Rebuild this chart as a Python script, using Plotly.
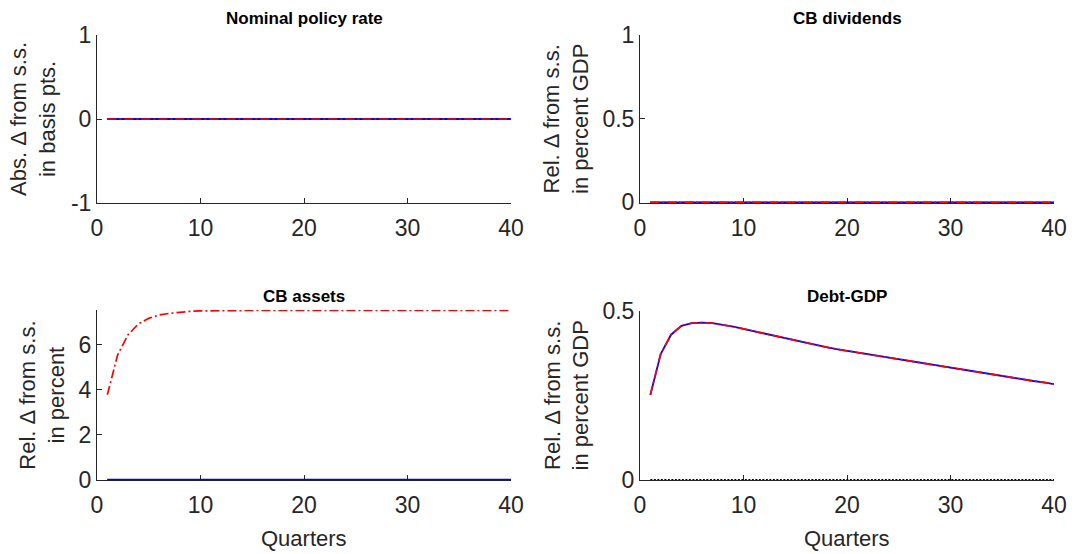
import plotly.graph_objects as go

W, H = 1078, 554

quarters = list(range(1, 41))

zero_series = [0.0] * 40

policy_rate_blue = [0.0] * 40
policy_rate_red = [0.0] * 40

dividends_blue = [0.0] * 40
dividends_red = [0.0] * 40

assets_blue = [0.0] * 40
assets_red = [3.78, 5.56, 6.45, 6.93, 7.18, 7.33, 7.40, 7.46, 7.49, 7.51,
              7.52, 7.52, 7.53, 7.53, 7.53, 7.53, 7.53, 7.53, 7.53, 7.53,
              7.53, 7.53, 7.53, 7.53, 7.53, 7.53, 7.53, 7.53, 7.53, 7.53,
              7.53, 7.53, 7.53, 7.53, 7.53, 7.53, 7.53, 7.53, 7.53, 7.53]

debt_red = [0.251, 0.372, 0.429, 0.455, 0.463, 0.465, 0.463, 0.459, 0.453, 0.446,
            0.439, 0.432, 0.426, 0.419, 0.412, 0.405, 0.399, 0.392, 0.386, 0.381,
            0.375, 0.370, 0.365, 0.360, 0.355, 0.350, 0.345, 0.340, 0.335, 0.331,
            0.326, 0.321, 0.316, 0.311, 0.307, 0.302, 0.297, 0.292, 0.288, 0.283]
debt_blue = list(debt_red)

titles = ["Nominal policy rate", "CB dividends", "CB assets", "Debt-GDP"]
ytitles = [["Abs. \u0394 from s.s.", "in basis pts."],
           ["Rel. \u0394 from s.s.", "in percent GDP"],
           ["Rel. \u0394 from s.s.", "in percent"],
           ["Rel. \u0394 from s.s.", "in percent GDP"]]
x_ticks = [0, 10, 20, 30, 40]
y_ticks = [[-1, 0, 1], [0, 0.5, 1], [0, 2, 4, 6], [0, 0.5]]
y_ticktext = [["-1", "0", "1"], ["0", "0.5", "1"], ["0", "2", "4", "6"], ["0", "0.5"]]
# lower bounds nudged a hair below 0 so zero lines are not clipped by the plot edge
y_ranges = [[-1, 1], [-0.0036, 1], [-0.027, 7.55], [-0.0018, 0.5]]

blue_data = [policy_rate_blue, dividends_blue, assets_blue, debt_blue]
red_data = [policy_rate_red, dividends_red, assets_red, debt_red]

# axes boxes in pixels (left, right, top, bottom)
boxes = [(97, 511, 35, 203), (640, 1054, 35, 203),
         (97, 511, 310, 480.3), (640, 1054, 310.7, 480.3)]
ytitle_x = [33, 566, 42.5, 566]
title_y = [18, 18, 296, 296]

AX = "#262626"
FONT = "Liberation Sans, Arial, Helvetica, sans-serif"

fig = go.Figure()
layout = dict(width=W, height=H,
              margin=dict(l=0, r=0, t=0, b=0, pad=0, autoexpand=False),
              paper_bgcolor="white", plot_bgcolor="white", showlegend=False,
              font=dict(family=FONT, color=AX))
annotations = []

for i in range(4):
    xa = "x" if i == 0 else f"x{i+1}"
    ya = "y" if i == 0 else f"y{i+1}"
    fig.add_trace(go.Scatter(x=quarters, y=zero_series, mode="lines",
                             line=dict(color="black", width=1.3, dash="2px,1.5px"),
                             xaxis=xa, yaxis=ya))
    fig.add_trace(go.Scatter(x=quarters, y=blue_data[i], mode="lines",
                             line=dict(color="#0000ff", width=1.8),
                             xaxis=xa, yaxis=ya))
    fig.add_trace(go.Scatter(x=quarters, y=red_data[i], mode="lines",
                             line=dict(color="#ff0000", width=1.7, dash="9px,3px,2px,3px"),
                             xaxis=xa, yaxis=ya))
    l, r, t, b = boxes[i]
    xkey = "xaxis" if i == 0 else f"xaxis{i+1}"
    ykey = "yaxis" if i == 0 else f"yaxis{i+1}"
    layout[xkey] = dict(domain=[l / W, r / W], anchor=ya, range=[0, 40],
                        tickvals=x_ticks, ticktext=[str(v) for v in x_ticks],
                        ticks="inside", ticklen=5, tickcolor=AX, showgrid=False,
                        zeroline=False, showline=True, linecolor=AX, linewidth=1,
                        automargin=False, layer="below traces", ticklabelstandoff=4,
                        tickfont=dict(size=23, color=AX, family=FONT))
    layout[ykey] = dict(domain=[1 - b / H, 1 - t / H], anchor=xa, range=y_ranges[i],
                        tickvals=y_ticks[i], ticktext=y_ticktext[i],
                        ticks="inside", ticklen=5, tickcolor=AX, showgrid=False,
                        zeroline=False, showline=True, linecolor=AX, linewidth=1,
                        automargin=False, layer="below traces",
                        tickfont=dict(size=23, color=AX, family=FONT))
    annotations.append(dict(text="<b>" + titles[i] + "</b>", xref="paper", yref="paper",
                            x=(l + r) / 2 / W, y=1 - title_y[i] / H, xanchor="center",
                            yanchor="middle", showarrow=False,
                            font=dict(size=17, color="black", family=FONT)))
    annotations.append(dict(text=ytitles[i][0] + "<br>" + ytitles[i][1], xref="paper",
                            yref="paper", x=ytitle_x[i] / W, y=1 - (t + b) / 2 / H,
                            xanchor="center", yanchor="middle", textangle=-90,
                            showarrow=False, font=dict(size=22, color=AX, family=FONT)))
    if i >= 2:
        annotations.append(dict(text="Quarters", xref="paper", yref="paper",
                                x=(l + r) / 2 / W, y=1 - 538 / H, xanchor="center",
                                yanchor="middle", showarrow=False,
                                font=dict(size=22, color=AX, family=FONT)))

layout["annotations"] = annotations
fig.update_layout(**layout)
fig.write_html("out.html")
